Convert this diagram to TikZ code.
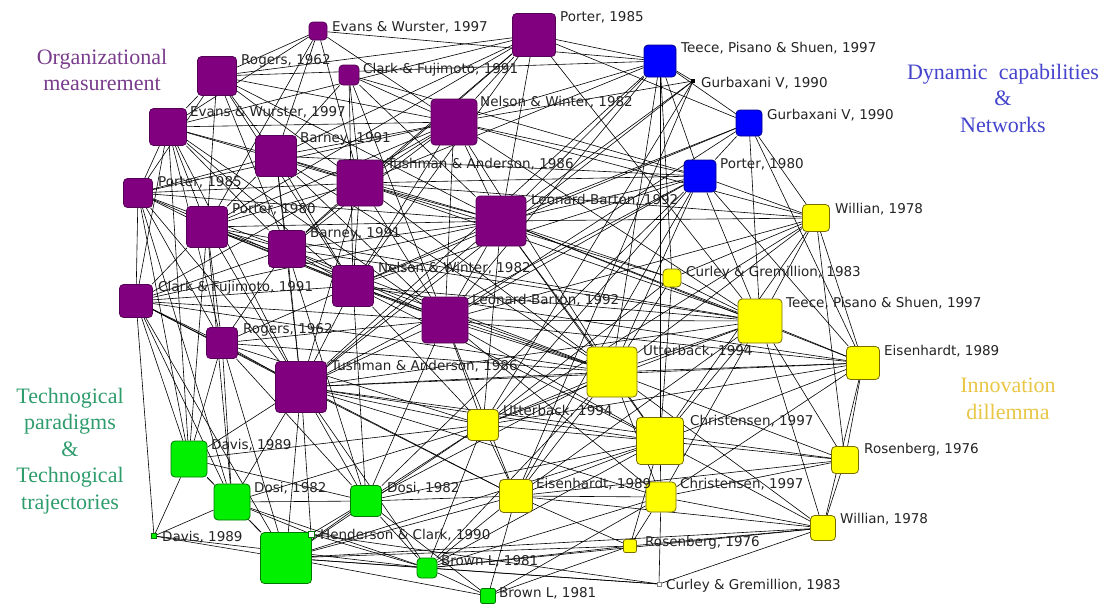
\documentclass[tikz,border=0pt]{standalone}
\usepackage{fontspec}
\setmainfont{DejaVu Sans}
\newfontfamily\catfont{Liberation Serif}
\usetikzlibrary{backgrounds}
\definecolor{pfill}{RGB}{128,0,128}
\definecolor{pdraw}{RGB}{85,0,85}
\definecolor{bfill}{RGB}{0,0,255}
\definecolor{bdraw}{RGB}{0,0,140}
\definecolor{yfill}{RGB}{255,255,0}
\definecolor{ydraw}{RGB}{120,110,0}
\definecolor{gfill}{RGB}{0,240,0}
\definecolor{gdraw}{RGB}{0,120,0}
\definecolor{catp}{RGB}{122,60,140}
\definecolor{catb}{RGB}{68,68,204}
\definecolor{caty}{RGB}{233,198,70}
\definecolor{catg}{RGB}{46,156,108}
\definecolor{lbltext}{RGB}{35,35,35}
\tikzset{
  box/.style={rectangle, rounded corners=4pt, inner sep=0pt, line width=0.8pt},
  pn/.style={box, fill=pfill, draw=pdraw},
  bn/.style={box, fill=bfill, draw=bdraw},
  yn/.style={box, fill=yfill, draw=ydraw},
  gn/.style={box, fill=gfill, draw=gdraw},
  tiny/.style={rectangle, inner sep=0pt, line width=0.6pt},
  lbl/.style={anchor=west, inner sep=0pt, text=lbltext, font=\fontsize{13.5}{15}\selectfont},
  cat/.style={align=center, inner sep=0pt, font=\catfont\fontsize{22}{26.5}\selectfont},
  edge/.style={line width=0.6pt, black}
}
\begin{document}
\begin{tikzpicture}[x=1pt, y=-1pt]
\useasboundingbox (0,0) rectangle (1107,603);
% purple nodes
\node[pn, minimum size=18] (p1) at (318,31) {};
\node[pn, minimum size=43] (p2) at (534,35) {};
\node[pn, minimum size=20] (p3) at (349,75) {};
\node[pn, minimum size=39] (p4) at (217,76) {};
\node[pn, minimum size=46] (p5) at (454,122) {};
\node[pn, minimum size=37] (p6) at (168,127) {};
\node[pn, minimum size=41] (p7) at (276,156) {};
\node[pn, minimum size=46] (p8) at (360,183) {};
\node[pn, minimum size=29] (p9) at (138,193) {};
\node[pn, minimum size=41] (p10) at (207,227) {};
\node[pn, minimum size=50] (p11) at (501,221) {};
\node[pn, minimum size=37] (p12) at (287,249) {};
\node[pn, minimum size=41] (p13) at (353,286) {};
\node[pn, minimum size=33] (p14) at (136,301) {};
\node[pn, minimum size=46] (p15) at (445,320) {};
\node[pn, minimum size=31] (p16) at (222,343) {};
\node[pn, minimum size=51] (p17) at (301,387) {};
% blue nodes
\node[bn, minimum size=32] (b1) at (660,61) {};
\node[tiny, fill=black, minimum size=4] (b2) at (693,81) {};
\node[bn, minimum size=26] (b3) at (749,123) {};
\node[bn, minimum size=32] (b4) at (700,176) {};
% yellow nodes
\node[yn, minimum size=27] (y1) at (816,218) {};
\node[yn, minimum size=18] (y2) at (672,278) {};
\node[yn, minimum size=44] (y3) at (760,321) {};
\node[yn, minimum size=50] (y4) at (612,372) {};
\node[yn, minimum size=33] (y5) at (863,363) {};
\node[yn, minimum size=31] (y6) at (483,425) {};
\node[yn, minimum size=47] (y7) at (660,441) {};
\node[yn, minimum size=27] (y8) at (845,460) {};
\node[yn, minimum size=33] (y9) at (516,496) {};
\node[yn, minimum size=30] (y10) at (661,497) {};
\node[yn, minimum size=25] (y11) at (823,528) {};
\node[yn, minimum size=13, rounded corners=2pt] (y12) at (630,546) {};
% green nodes
\node[gn, minimum size=36] (g1) at (189,459) {};
\node[gn, minimum size=36] (g2) at (232,502) {};
\node[gn, minimum size=31] (g3) at (366,501) {};
\node[tiny, fill=gfill, draw=gdraw, minimum size=5] (g4) at (154,536) {};
\node[gn, minimum size=51] (g5) at (286,558) {};
\node[tiny, fill=white, draw=gdraw, minimum size=6] (g6) at (311,534) {};
\node[gn, minimum size=20] (g7) at (427,568) {};
\node[gn, minimum size=15, rounded corners=2pt] (g8) at (488,596) {};
\node[tiny, fill=white, draw=gray, line width=0.5pt, minimum size=4] (g9) at (659,584) {};
% edges
\begin{scope}[on background layer]
\foreach \b in {p4,p6,p7,p8,p5,p10,b1} \draw[edge] (p1) -- (\b);
\foreach \b in {p4,p5,p6,p7,p8,p10,p11,p12,p13,b3,b1,y3} \draw[edge] (p2) -- (\b);
\foreach \b in {p5,p8,p11,p7,p13,b4,p15} \draw[edge] (p3) -- (\b);
\foreach \b in {p6,p7,p9,p5,p8,p10,p12,p11,b1,p13} \draw[edge] (p4) -- (\b);
\foreach \b in {p6,p7,p8,p9,p10,p11,p12,p13,p14,p15,b1,b2,b4,y1,y3,y4} \draw[edge] (p5) -- (\b);
\foreach \b in {p7,p8,p9,p10,p12,p13,p14,p16,p15,g1,p17} \draw[edge] (p6) -- (\b);
\foreach \b in {p8,p9,p10,p11,p12,p13,p15,p17,y4,b4} \draw[edge] (p7) -- (\b);
\foreach \b in {p9,p10,p11,p12,p13,p15,p17,b4,b1,y3,y4,y1,y2} \draw[edge] (p8) -- (\b);
\foreach \b in {p10,p12,p13,p14,p16,p17,g1,g2,p11} \draw[edge] (p9) -- (\b);
\foreach \b in {p11,p12,p13,p14,p15,p16,p17,g1,g2,y4,y3} \draw[edge] (p10) -- (\b);
\foreach \b in {p12,p13,p14,p15,p17,b1,b2,b3,b4,y1,y2,y3,y4,y5,y6,y7} \draw[edge] (p11) -- (\b);
\foreach \b in {p13,p14,p15,p16,p17,y4,y3,g3} \draw[edge] (p12) -- (\b);
\foreach \b in {p14,p15,p16,p17,y3,y4,y6,y7,y5,g3,b4} \draw[edge] (p13) -- (\b);
\foreach \b in {p15,p16,p17,g1,g2,g4,g5,y4,y9} \draw[edge] (p14) -- (\b);
\foreach \b in {p16,p17,b4,b3,y1,y3,y4,y5,y6,y7,y9,y10,g3} \draw[edge] (p15) -- (\b);
\foreach \b in {p17,g1,g2,g5,g3,y6,y4} \draw[edge] (p16) -- (\b);
\foreach \b in {g1,g2,g3,g5,g6,g7,y4,y6,y7,y9,y10,y3,y5,y8} \draw[edge] (p17) -- (\b);
\foreach \b in {b4,b2,b3,y2,y4,y7,p15,p17} \draw[edge] (b1) -- (\b);
\foreach \b in {y6,p17,y9} \draw[edge] (b2) -- (\b);
\foreach \b in {b4,y3,y5,y1,p13} \draw[edge] (b3) -- (\b);
\foreach \b in {y1,y3,y4,y5,y6,p17,y9,g3} \draw[edge] (b4) -- (\b);
\foreach \b in {y3,y4,y5,y2,y7,y8,y6} \draw[edge] (y1) -- (\b);
\foreach \b in {y3,y4,y7,y6} \draw[edge] (y2) -- (\b);
\foreach \b in {y4,y5,y7,y8,y6,y10,y11,y9} \draw[edge] (y3) -- (\b);
\foreach \b in {y5,y6,y7,y9,y10,y8,y11,g3,g7} \draw[edge] (y4) -- (\b);
\foreach \b in {y7,y8,y10,y11,y6} \draw[edge] (y5) -- (\b);
\foreach \b in {y7,y9,g3,g2,g1,g5,g7} \draw[edge] (y6) -- (\b);
\foreach \b in {y8,y9,y10,y11,y12,g3,g5,g7} \draw[edge] (y7) -- (\b);
\foreach \b in {y9,y10,y11} \draw[edge] (y8) -- (\b);
\foreach \b in {y10,y12,g3,g5,g7,g8} \draw[edge] (y9) -- (\b);
\foreach \b in {y11,y12,g8,g9,g7} \draw[edge] (y10) -- (\b);
\foreach \b in {y12,g5,g9,y9,g7} \draw[edge] (y11) -- (\b);
\foreach \b in {g7,g8,g5} \draw[edge] (y12) -- (\b);
\foreach \b in {g2,g4,g5,g3} \draw[edge] (g1) -- (\b);
\foreach \b in {g3,g4,g5,g6,g7} \draw[edge] (g2) -- (\b);
\foreach \b in {g5,g6,g7,g8} \draw[edge] (g3) -- (\b);
\foreach \b in {g5,g7} \draw[edge] (g4) -- (\b);
\foreach \b in {g6,g7,g8,g9} \draw[edge] (g5) -- (\b);
\foreach \b in {g7,g9} \draw[edge] (g6) -- (\b);
\foreach \b in {g8,g9} \draw[edge] (g7) -- (\b);
\end{scope}
% node labels
\node[lbl] (lp1) at (332,27) {Evans \& Wurster, 1997};
\node[lbl] (lp2) at (560,17) {Porter, 1985};
\node[lbl] (lp3) at (363,70) {Clark \& Fujimoto, 1991};
\node[lbl] (lp4) at (241,61) {Rogers, 1962};
\node[lbl] (lp5) at (480,102) {Nelson \& Winter, 1982};
\node[lbl] (lp6) at (190,112) {Evans \& Wurster, 1997};
\node[lbl] (lp7) at (300,139) {Barney, 1991};
\node[lbl] (lp8) at (387,164) {Tushman \& Anderson, 1986};
\node[lbl] (lp9) at (158,182) {Porter, 1985};
\node[lbl] (lp10) at (232,209) {Porter, 1980};
\node[lbl] (lp11) at (531,200) {Leonard-Barton, 1992};
\node[lbl] (lp12) at (310,234) {Barney, 1991};
\node[lbl] (lp13) at (378,268) {Nelson \& Winter, 1982};
\node[lbl] (lp14) at (158,288) {Clark \& Fujimoto, 1991};
\node[lbl] (lp15) at (472,300) {Leonard-Barton, 1992};
\node[lbl] (lp16) at (243,330) {Rogers, 1962};
\node[lbl] (lp17) at (331,366) {Tushman \& Anderson, 1986};
\node[lbl] (lb1) at (681,48) {Teece, Pisano \& Shuen, 1997};
\node[lbl] (lb2) at (701,83) {Gurbaxani V, 1990};
\node[lbl] (lb3) at (767,115) {Gurbaxani V, 1990};
\node[lbl] (lb4) at (720,164) {Porter, 1980};
\node[lbl] (ly1) at (835,209) {Willian, 1978};
\node[lbl] (ly2) at (686,273) {Curley \& Gremillion, 1983};
\node[lbl] (ly3) at (786,303) {Teece, Pisano \& Shuen, 1997};
\node[lbl] (ly4) at (643,351) {Utterback, 1994};
\node[lbl] (ly5) at (884,351) {Eisenhardt, 1989};
\node[lbl] (ly6) at (503,411) {Utterback, 1994};
\node[lbl] (ly7) at (690,421) {Christensen, 1997};
\node[lbl] (ly8) at (864,450) {Rosenberg, 1976};
\node[lbl] (ly9) at (536,484) {Eisenhardt, 1989};
\node[lbl] (ly10) at (680,484) {Christensen, 1997};
\node[lbl] (ly11) at (840,519) {Willian, 1978};
\node[lbl] (ly12) at (645,543) {Rosenberg, 1976};
\node[lbl] (lg1) at (211,445) {Davis, 1989};
\node[lbl] (lg2) at (254,488) {Dosi, 1982};
\node[lbl] (lg3) at (387,488) {Dosi, 1982};
\node[lbl] (lg4) at (162,537) {Davis, 1989};
\node[lbl] (lg6) at (320,535) {Henderson \& Clark, 1990};
\node[lbl] (lg7) at (441,561) {Brown L, 1981};
\node[lbl] (lg8) at (499,593) {Brown L, 1981};
\node[lbl] (lg9) at (666,586) {Curley \& Gremillion, 1983};
% category labels
\node[cat, text=catp] (catorg) at (102,70) {Organizational\\measurement};
\node[cat, text=catb] (catdyn) at (1003,98) {Dynamic\ \ capabilities\\\&\\Networks};
\node[cat, text=caty] (catinn) at (1008,399) {Innovation\\dillemma};
\node[cat, text=catg] (cattec) at (70,451) {Technogical\\paradigms\\\&\\Technogical\\trajectories};
\end{tikzpicture}
\end{document}
